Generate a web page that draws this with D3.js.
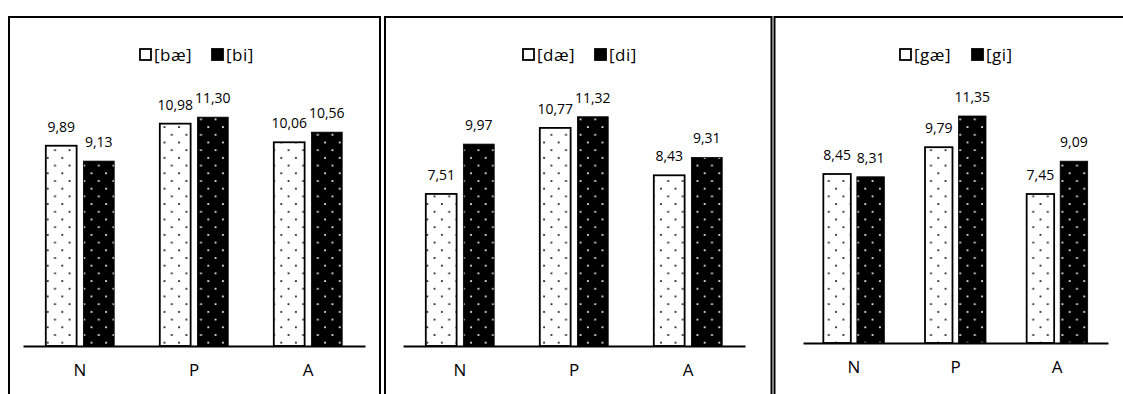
<!DOCTYPE html>
<html><head><meta charset="utf-8">
<script src="https://cdn.jsdelivr.net/npm/d3@7"></script>
<style>body{margin:0;background:#fff}svg{display:block}text{font-family:"Open Sans",Lato,sans-serif;fill:#000}</style>
</head><body>
<script>
const categories = ["N", "P", "A"];
const panelTitles = [["[bæ]", "[bi]"], ["[dæ]", "[di]"], ["[gæ]", "[gi]"]];
const seriesB = [[9.89, 10.98, 10.06], [9.13, 11.30, 10.56]];
const seriesD = [[7.51, 10.77, 8.43], [9.97, 11.32, 9.31]];
const seriesG = [[8.45, 9.79, 7.45], [8.31, 11.35, 9.09]];
const panelData = [seriesB, seriesD, seriesG];

const W = 1123, H = 394;
const svg = d3.select("body").append("svg").attr("width", W).attr("height", H);
const defs = svg.append("defs");
function pat(id, bg, fg) {
  const p = defs.append("pattern").attr("id", id).attr("patternUnits", "userSpaceOnUse")
    .attr("width", 14.6).attr("height", 15.4);
  p.append("rect").attr("width", 14.6).attr("height", 15.4).attr("fill", bg);
  p.append("rect").attr("x", 3).attr("y", 3).attr("width", 1.8).attr("height", 1.8).attr("fill", fg);
  p.append("rect").attr("x", 10.3).attr("y", 10.7).attr("width", 1.8).attr("height", 1.8).attr("fill", fg);
}
pat("pw", "#fff", "#222");
pat("pb", "#000", "#e6e6e6");

const fmt = d3.formatLocale({decimal: ",", thousands: ".", grouping: [3], currency: ["", ""]}).format(".2f");

const layout = [
  {bx0: 9, bx1: 380, ax0: 23, ax1: 365, ay: 346, legCx: 198},
  {bx0: 385, bx1: 771.5, ax0: 403, ax1: 745, ay: 346, legCx: 581},
  {bx0: 774.5, bx1: 1130, ax0: 803, ax1: 1108, ay: 343, legCx: 958}
];

layout.forEach((L, i) => {
  const g = svg.append("g");
  g.append("path").attr("d", `M${L.bx0},${H + 5}V17H${L.bx1}V${H + 5}`)
    .attr("fill", "none").attr("stroke", "#000").attr("stroke-width", 2);
  const y = d3.scaleLinear().domain([0, 12]).range([L.ay, 103]);
  const x0 = d3.scaleBand().domain(categories).range([L.ax0, L.ax1]).paddingInner(0.4).paddingOuter(0.2);
  const x1 = d3.scaleBand().domain([0, 1]).range([0, x0.bandwidth()]).paddingInner(0.18);
  const data = panelData[i];
  const fills = ["url(#pw)", "url(#pb)"];
  data.forEach((vals, s) => {
    vals.forEach((v, c) => {
      const bx = x0(categories[c]) + x1(s);
      g.append("rect").attr("x", bx).attr("y", y(v)).attr("width", x1.bandwidth())
        .attr("height", y(0) - y(v)).attr("fill", fills[s])
        .attr("stroke", "#000").attr("stroke-width", s === 0 ? 1.8 : 0.8);
      g.append("text").attr("x", bx + x1.bandwidth() / 2).attr("y", y(v) - 14)
        .attr("text-anchor", "middle").attr("font-size", 14).text(fmt(v));
    });
  });
  const ax = g.append("g").attr("transform", `translate(0,${L.ay})`)
    .call(d3.axisBottom(x0).tickSize(0).tickPadding(18));
  ax.select(".domain").attr("stroke", "#000").attr("stroke-width", 2.2);
  ax.selectAll("text").attr("font-size", 17).attr("font-family", "'Open Sans',Lato,sans-serif");
  const lg = g.append("g").attr("transform", `translate(${L.legCx},0)`);
  const items = [{t: panelTitles[i][0], x: -58}, {t: panelTitles[i][1], x: 14}];
  items.forEach((it, s) => {
    lg.append("rect").attr("x", it.x).attr("y", 49).attr("width", 11).attr("height", 11)
      .attr("fill", s === 0 ? "#fff" : "#000").attr("stroke", "#000").attr("stroke-width", 1.8);
    lg.append("text").attr("x", it.x + 14).attr("y", 60.5).attr("font-size", 17)
      .attr("letter-spacing", 0.5).text(it.t);
  });
});
</script>
</body></html>
